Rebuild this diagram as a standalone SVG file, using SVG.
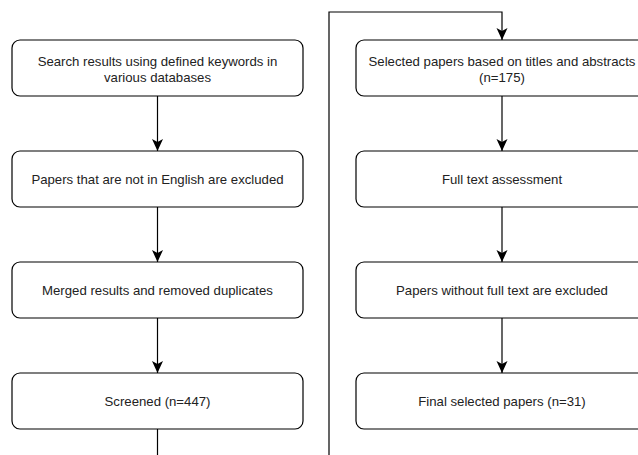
<svg xmlns="http://www.w3.org/2000/svg" width="638" height="455" viewBox="0 0 638 455">
<defs>
<marker id="arr" viewBox="0 0 12 12" refX="12" refY="6" markerWidth="12" markerHeight="12" markerUnits="userSpaceOnUse" orient="auto">
<path d="M0,0.5 L12,6 L0,11.5 L3,6 Z" fill="#000"/>
</marker>
<style>
.box{fill:#fff;stroke:#000;stroke-width:1.2}
.t{font-family:"Liberation Sans",Arial,sans-serif;font-size:13.2px;fill:#222;text-anchor:middle;dominant-baseline:central}
.c{fill:none;stroke:#000;stroke-width:1.2}
</style>
</defs>
<rect width="638" height="455" fill="#fff"/>
<g id="connectors">
<line class="c" x1="157.5" y1="96" x2="157.5" y2="151" marker-end="url(#arr)"/>
<line class="c" x1="157.5" y1="207" x2="157.5" y2="262" marker-end="url(#arr)"/>
<line class="c" x1="157.5" y1="318" x2="157.5" y2="373" marker-end="url(#arr)"/>
<polyline class="c" points="157.5,429 157.5,455"/>
<polyline class="c" points="329,455 329,12 502,12 502,40" marker-end="url(#arr)"/>
<line class="c" x1="502" y1="96" x2="502" y2="151" marker-end="url(#arr)"/>
<line class="c" x1="502" y1="207" x2="502" y2="262" marker-end="url(#arr)"/>
<line class="c" x1="502" y1="318" x2="502" y2="373" marker-end="url(#arr)"/>
</g>
<g id="n1"><rect class="box" x="12" y="40" width="291" height="56" rx="8"/><text class="t" x="157.5" y="61">Search results using defined keywords in</text><text class="t" x="157.5" y="77">various databases</text></g>
<g id="n2"><rect class="box" x="12" y="151" width="291" height="56" rx="8"/><text class="t" x="157.5" y="179">Papers that are not in English are excluded</text></g>
<g id="n3"><rect class="box" x="12" y="262" width="291" height="56" rx="8"/><text class="t" x="157.5" y="290">Merged results and removed duplicates</text></g>
<g id="n4"><rect class="box" x="12" y="373" width="291" height="56" rx="8"/><text class="t" x="157.5" y="401">Screened (n=447)</text></g>
<g id="n5"><rect class="box" x="356" y="40" width="292" height="56" rx="8"/><text class="t" x="502" y="61">Selected papers based on titles and abstracts</text><text class="t" x="502" y="77">(n=175)</text></g>
<g id="n6"><rect class="box" x="356" y="151" width="292" height="56" rx="8"/><text class="t" x="502" y="179">Full text assessment</text></g>
<g id="n7"><rect class="box" x="356" y="262" width="292" height="56" rx="8"/><text class="t" x="502" y="290">Papers without full text are excluded</text></g>
<g id="n8"><rect class="box" x="356" y="373" width="292" height="56" rx="8"/><text class="t" x="502" y="401">Final selected papers (n=31)</text></g>
</svg>
